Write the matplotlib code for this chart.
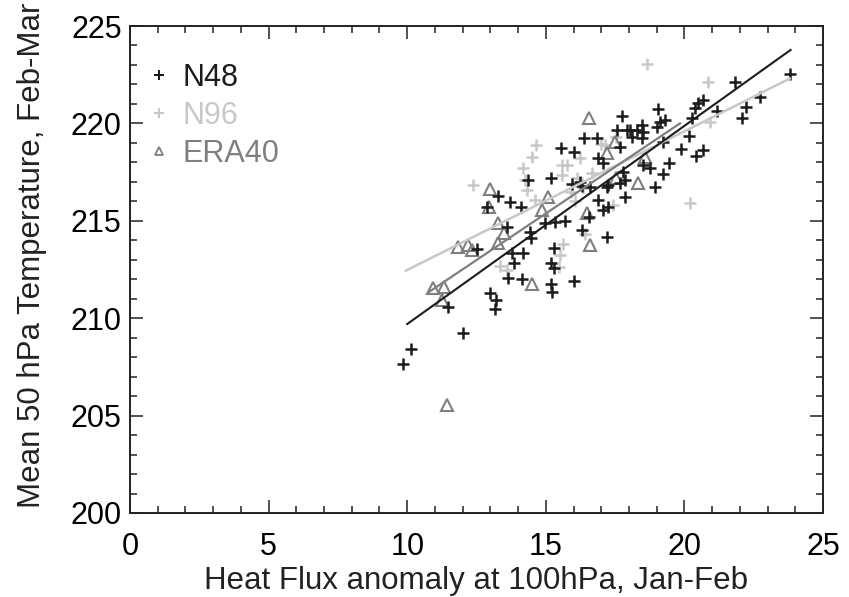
import matplotlib
matplotlib.use("Agg")
import matplotlib.pyplot as plt
from matplotlib.lines import Line2D
from matplotlib.ticker import MultipleLocator

plt.rcParams['font.family'] = ['Liberation Sans', 'DejaVu Sans']

# N48 ensemble (black crosses)
n48_x = [9.86, 10.14, 12.0, 11.48, 12.99, 13.2, 13.17, 12.53, 13.29, 13.71, 14.09, 12.87,
         14.37, 15.19, 15.55, 16.03, 16.39, 16.83, 16.89, 13.59, 14.43, 14.46, 14.97, 15.33,
         15.69, 15.93, 16.29, 16.59, 16.89, 17.07, 16.29, 17.19, 13.78, 14.18, 13.84, 13.65,
         14.15, 15.31, 15.17, 15.31, 15.19, 15.22, 16.03, 16.57,
         23.81, 21.83, 22.73, 22.21, 22.09, 21.16, 20.66, 20.5, 20.38, 20.26, 20.18, 19.88,
         20.42, 20.68, 19.04, 17.74, 19.12, 19.3, 19.0, 18.46, 18.28, 18.04, 18.52, 18.1,
         18.46, 17.56, 17.68, 17.07, 19.24, 18.52, 18.76, 17.8, 19.24, 19.45, 18.94, 17.86,
         17.19, 17.92, 17.68, 17.86, 17.26, 17.26, 16.23]
n48_y = [207.65, 208.4, 209.23, 210.59, 211.31, 210.93, 210.46, 213.54, 216.27, 215.98, 215.72, 215.72,
         217.1, 217.18, 218.72, 218.55, 219.27, 219.24, 218.2, 214.7, 214.44, 214.14, 214.9, 214.95,
         215.0, 216.9, 216.8, 216.75, 216.07, 215.55, 214.53, 214.18, 213.35, 213.35, 212.83, 212.04,
         212.0, 213.61, 212.83, 212.56, 211.78, 211.33, 211.9, 215.2,
         222.54, 222.1, 221.37, 220.83, 220.26, 220.64, 221.2, 221.03, 220.77, 220.26, 219.35, 218.69,
         218.33, 218.63, 220.72, 220.4, 220.09, 220.17, 219.83, 219.9, 219.66, 219.66, 219.57, 219.32,
         219.24, 219.66, 218.8, 217.95, 219.06, 217.86, 217.7, 217.5, 217.4, 217.95, 216.75, 216.24,
         216.75, 219.66, 216.93, 217.1, 216.84, 215.72, 217.0]

# N96 ensemble (light grey crosses)
n96_x = [12.38, 14.65, 14.52, 14.19, 14.31, 14.61, 15.57, 15.75, 15.57, 16.23, 16.98, 16.65,
         16.11, 16.35, 18.64, 20.86, 20.92, 20.2, 17.14, 17.43, 17.55, 15.62, 15.5, 15.46,
         16.42, 13.35, 13.6, 14.25, 15.9, 16.05]
n96_y = [216.84, 218.9, 218.3, 217.7, 216.58, 216.07, 217.86, 217.86, 217.35, 218.2, 218.94, 217.44,
         217.18, 216.67, 223.05, 222.14, 220.09, 215.9, 218.9, 215.8, 219.3, 213.8, 213.27, 212.65,
         214.31, 212.66, 212.5, 217.1, 216.5, 216.0]

# ERA40 reanalysis (grey triangles)
era_x = [11.42, 10.92, 11.33, 11.24, 11.84, 12.2, 12.33, 13.29, 13.5, 13.29, 12.99, 12.95,
         15.09, 14.88, 16.47, 16.57, 17.19, 17.5, 17.55, 18.34, 18.58, 14.52, 16.59]
era_y = [205.54, 211.53, 211.62, 210.93, 213.64, 213.76, 213.5, 214.87, 214.36, 213.88, 216.62, 215.72,
         216.24, 215.55, 215.38, 220.26, 218.46, 219.06, 217.18, 216.93, 218.29, 211.77, 213.76]

# regression lines (end points)
fit_n48_x = [10.0, 23.83]
fit_n48_y = [209.7, 223.77]
fit_n96_x = [9.95, 23.8]
fit_n96_y = [212.44, 222.3]
fit_era_x = [10.8, 19.84]
fit_era_y = [211.36, 220.0]

c_n48 = '#1c1c1c'
c_n96 = '#c8c8c8'
c_era = '#7f7f7f'

fig = plt.figure(figsize=(8.49, 5.97), dpi=100)
ax = fig.add_axes([130 / 849, 1 - 513 / 597, 693 / 849, 487 / 597])

ax.plot(n96_x, n96_y, ls='none', marker='+', ms=9, mew=1.8, color=c_n96)
ax.plot(era_x, era_y, ls='none', marker='^', ms=9, mew=1.5, mfc='none', mec=c_era)
ax.plot(n48_x, n48_y, ls='none', marker='+', ms=9, mew=1.8, color=c_n48)

ax.plot(fit_n96_x, fit_n96_y, color=c_n96, lw=1.8)
ax.plot(fit_era_x, fit_era_y, color=c_era, lw=1.6)
ax.plot(fit_n48_x, fit_n48_y, color=c_n48, lw=1.5)

ax.set_xlim(0, 25)
ax.set_ylim(200, 225)
ax.xaxis.set_major_locator(MultipleLocator(5))
ax.xaxis.set_minor_locator(MultipleLocator(1))
ax.yaxis.set_major_locator(MultipleLocator(5))
ax.yaxis.set_minor_locator(MultipleLocator(1))
ax.tick_params(which='both', direction='in', top=True, right=True, width=1.1, color='#222222')
ax.tick_params(which='major', length=9.5)
ax.tick_params(which='minor', length=5)
ax.tick_params(axis='x', which='major', pad=14, labelsize=22)
ax.tick_params(axis='y', which='major', pad=6, labelsize=22)
for s in ax.spines.values():
    s.set_linewidth(1.4)
    s.set_color('#222222')

ax.set_xlabel('Heat Flux anomaly at 100hPa, Jan-Feb', fontsize=22.5, color='#222222')
ax.set_ylabel('Mean 50 hPa Temperature, Feb-Mar', fontsize=22.5, color='#222222')
ax.xaxis.set_label_coords(0.5, -0.108)
ax.yaxis.set_label_coords(-0.12, 0.53)

handles = [
    Line2D([0], [0], ls='none', marker='+', ms=7, mew=1.5, color=c_n48, label='N48'),
    Line2D([0], [0], ls='none', marker='+', ms=7, mew=1.5, color=c_n96, label='N96'),
    Line2D([0], [0], ls='none', marker='^', ms=6, mew=1.3, mfc='none', mec=c_era, label='ERA40'),
]
leg = ax.legend(handles=handles, loc='upper left', frameon=False, fontsize=22,
                handlelength=0.6, handletextpad=0.45, labelspacing=0.26,
                borderaxespad=0.3, bbox_to_anchor=(-0.002, 0.968))
for t, c in zip(leg.get_texts(), [c_n48, c_n96, c_era]):
    t.set_color(c)

fig.savefig('out.png', dpi=100)
